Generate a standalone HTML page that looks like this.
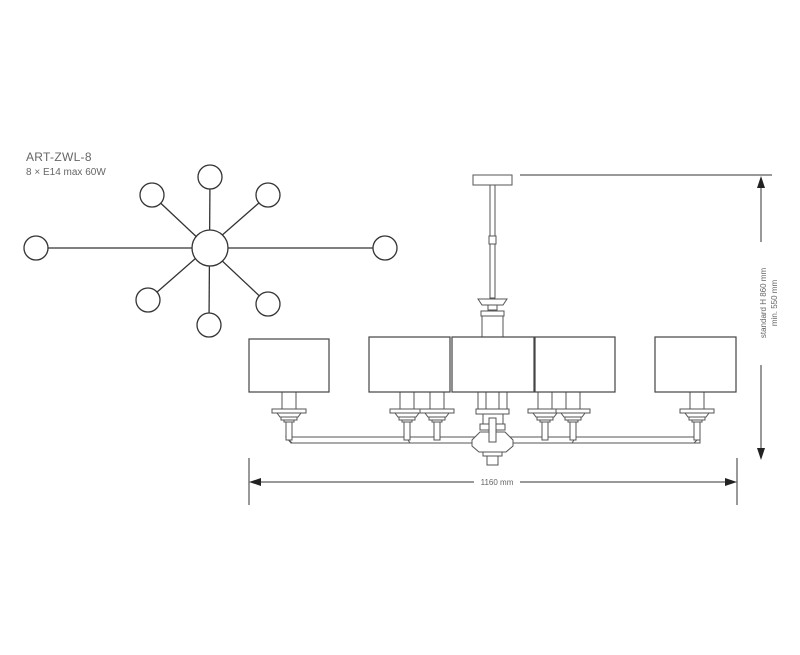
<!DOCTYPE html>
<html><head><meta charset="utf-8"><style>
html,body{margin:0;padding:0;background:#fff;}
svg{display:block;}
text{font-family:"Liberation Sans",sans-serif;fill:#666;}
</style></head><body>
<svg width="800" height="655" viewBox="0 0 800 655" xmlns="http://www.w3.org/2000/svg">
<defs>
<g id="cand" fill="#fff" stroke="#555" stroke-width="1">
  <rect x="-7" y="392" width="14" height="18"/>
  <rect x="-17" y="409" width="34" height="4"/>
  <path d="M-12 413 H12 L9 417 H-9 Z"/>
  <rect x="-8" y="417" width="16" height="3"/>
  <rect x="-5" y="420" width="10" height="2"/>
  <rect x="-3" y="422" width="6" height="18"/>
</g>
</defs>
<text x="26" y="161" font-size="12" letter-spacing="0.3">ART-ZWL-8</text>
<text x="26" y="175" font-size="10">8 × E14 max 60W</text>
<g stroke="#333" stroke-width="1.3" fill="#fff">
  <line x1="36" y1="248" x2="385" y2="248"/>
  <line x1="210" y1="177" x2="209" y2="325"/>
  <line x1="152" y1="195" x2="268" y2="304"/>
  <line x1="268" y1="195" x2="148" y2="300"/>
  <circle cx="210" cy="248" r="18"/>
  <circle cx="210" cy="177" r="12"/>
  <circle cx="152" cy="195" r="12"/>
  <circle cx="268" cy="195" r="12"/>
  <circle cx="36" cy="248" r="12"/>
  <circle cx="385" cy="248" r="12"/>
  <circle cx="148" cy="300" r="12"/>
  <circle cx="268" cy="304" r="12"/>
  <circle cx="209" cy="325" r="12"/>
</g>
<g stroke="#555" stroke-width="1" fill="#fff">
  <rect x="473" y="175" width="39" height="10"/>
  <rect x="490" y="185" width="5" height="113"/>
  <rect x="489" y="236" width="7" height="8"/>
  <path d="M478 299 H507 L503 305 H482 Z"/>
  <rect x="488" y="305" width="9" height="5"/>
  <rect x="481" y="311" width="23" height="5"/>
  <rect x="482" y="316" width="21" height="22"/>
  <path d="M286 437 H700 V443 L694 443 L291 443 L286 437 Z"/>
  <line x1="286" y1="437" x2="292" y2="443"/>
  <line x1="700" y1="437" x2="694" y2="443"/>
  <line x1="406" y1="437" x2="410" y2="443"/>
  <line x1="576" y1="437" x2="572" y2="443"/>
</g>
<use href="#cand" transform="translate(289 0)"/>
<use href="#cand" transform="translate(407 0)"/>
<use href="#cand" transform="translate(437 0)"/>
<use href="#cand" transform="translate(545 0)"/>
<use href="#cand" transform="translate(573 0)"/>
<use href="#cand" transform="translate(697 0)"/>
<g stroke="#555" stroke-width="1" fill="#fff">
  <rect x="478" y="392" width="8" height="20"/>
  <rect x="499" y="392" width="8" height="20"/>
  <rect x="476" y="409" width="33" height="5"/>
  <rect x="483" y="414" width="20" height="10"/>
  <rect x="480" y="424" width="25" height="6"/>
  <path d="M472 440 L480 432 H505 L513 440 V446 L506 452 H479 L472 446 Z"/>
  <rect x="483" y="452" width="19" height="4"/>
  <rect x="487" y="456" width="11" height="9"/>
  <rect x="489" y="418" width="7" height="24"/>
</g>
<g stroke="#444" stroke-width="1.2" fill="#fff">
  <rect x="249" y="339" width="80" height="53"/>
  <rect x="369" y="337" width="81" height="55"/>
  <rect x="452" y="337" width="82" height="55"/>
  <rect x="535" y="337" width="80" height="55"/>
  <rect x="655" y="337" width="81" height="55"/>
</g>
<g stroke="#333" stroke-width="1" fill="none">
  <line x1="520" y1="175" x2="772" y2="175"/>
  <line x1="761" y1="180" x2="761" y2="242"/>
  <line x1="761" y1="365" x2="761" y2="455"/>
  <line x1="249" y1="458" x2="249" y2="505"/>
  <line x1="737" y1="458" x2="737" y2="505"/>
  <line x1="254" y1="482" x2="474" y2="482"/>
  <line x1="520" y1="482" x2="732" y2="482"/>
</g>
<g fill="#222">
  <path d="M761 176 L757 188 H765 Z"/>
  <path d="M761 460 L757 448 H765 Z"/>
  <path d="M249 482 L261 478 V486 Z"/>
  <path d="M737 482 L725 478 V486 Z"/>
</g>
<text x="497" y="485" font-size="8" text-anchor="middle">1160 mm</text>
<text transform="translate(766 303) rotate(-90)" font-size="8" text-anchor="middle">standard H 860 mm</text>
<text transform="translate(777 303) rotate(-90)" font-size="8" text-anchor="middle">min. 550 mm</text>
</svg>
</body></html>
